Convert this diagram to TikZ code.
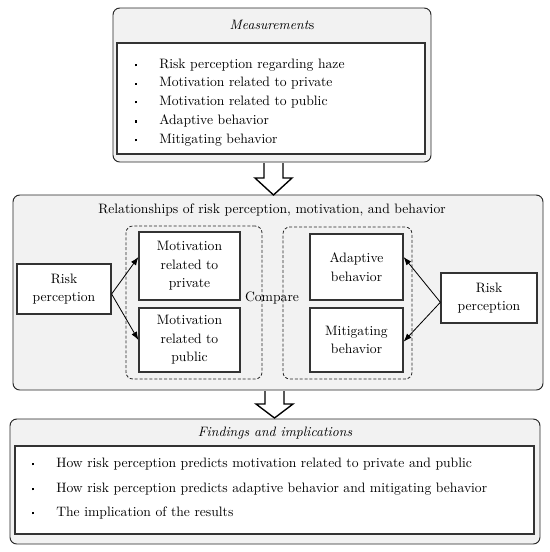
\documentclass[tikz,border=0pt]{standalone}
\usetikzlibrary{fit,arrows.meta}

\newdimen\pxu \pxu=0.733pt
\newcommand{\bul}{\makebox[24\pxu][l]{\rule[0.35ex]{1.6pt}{1.6pt}}}

\begin{document}
\begin{tikzpicture}[
    x=\pxu, y=-\pxu,
    panel/.style={draw=black!85, line width=0.7pt, fill=gray!10, rounded corners=5pt, inner sep=0pt},
    group/.style={draw=black!85, line width=0.6pt, dash pattern=on 2.2pt off 1.4pt, rounded corners=5pt, inner sep=0pt},
    box/.style={draw=black!80, line width=0.9pt, fill=white, inner sep=0pt, align=center, font=\fontsize{10}{13.6}\selectfont},
    item/.style={anchor=west, inner sep=0pt},
    blockarrow/.style={draw=black, line width=1pt, fill=white, line join=miter},
    >={Latex[length=6pt,width=4.5pt]}
]

\useasboundingbox (0,0) rectangle (550,552);

% --- Measurements (top) ---
\node[panel, fit={(113,8) (431,162)}] (meas) {};
\node (meastitle) at (272,25) {\textit{Measurement}s};
\node[box, fit={(117,43) (425,154)}] (measlist) {};
\node[item] (m1) at (135,65) {\bul Risk perception regarding haze};
\node[item] (m2) at (135,83.5) {\bul Motivation related to private};
\node[item] (m3) at (135,102) {\bul Motivation related to public};
\node[item] (m4) at (135,121) {\bul Adaptive behavior};
\node[item] (m5) at (135,140) {\bul Mitigating behavior};

% --- Relationships (middle) ---
\node[panel, fit={(13,195) (543,390)}] (rel) {};
\node (reltitle) at (272,210) {Relationships of risk perception, motivation, and behavior};
\node[group, fit={(126,226) (262,379)}] (motgroup) {};
\node[group, fit={(283,227) (412,379)}] (behgroup) {};

\node[box, minimum width=94*\pxu, minimum height=50*\pxu] (riskL) at (64,289) {Risk\\perception};
\node[box, minimum width=101*\pxu, minimum height=68*\pxu] (motpriv) at (189.5,266) {Motivation\\related to\\private};
\node[box, minimum width=101*\pxu, minimum height=64*\pxu] (motpub) at (189.5,340) {Motivation\\related to\\public};
\node (compare) at (272,298) {Compare};
\node[box, minimum width=93*\pxu, minimum height=66*\pxu] (adapt) at (356.5,267) {Adaptive\\behavior};
\node[box, minimum width=93*\pxu, minimum height=64*\pxu] (mitig) at (356.5,340) {Mitigating\\behavior};
\node[box, minimum width=96*\pxu, minimum height=50*\pxu] (riskR) at (489,298) {Risk\\perception};

\draw[->, line width=0.6pt] (riskL.-6) -- (motpriv.170);
\draw[->, line width=0.6pt] (riskL.-6) -- (motpub.west);
\draw[->, line width=0.6pt] (riskR.185) -- (adapt.12);
\draw[->, line width=0.6pt] (riskR.185) -- (mitig.-2);

% --- Findings (bottom) ---
\node[panel, fit={(10,419) (540,544)}] (find) {};
\node (findtitle) at (275,433) {\textit{Findings and implications}};
\node[box, fit={(15,446) (534,534)}] (findlist) {};
\node[item] (f1) at (32,464) {\bul How risk perception predicts motivation related to private and public};
\node[item] (f2) at (32,489) {\bul How risk perception predicts adaptive behavior and mitigating behavior};
\node[item] (f3) at (32,513) {\bul The implication of the results};

% block arrows between the panels
\draw[blockarrow] (264,163) -- (264,178) -- (255,178) -- (273.5,195) -- (292,178) -- (283,178) -- (283,163);
\draw[blockarrow] (265,391) -- (265,404) -- (256,404) -- (274.5,418) -- (293,404) -- (284,404) -- (284,391);

\end{tikzpicture}
\end{document}
